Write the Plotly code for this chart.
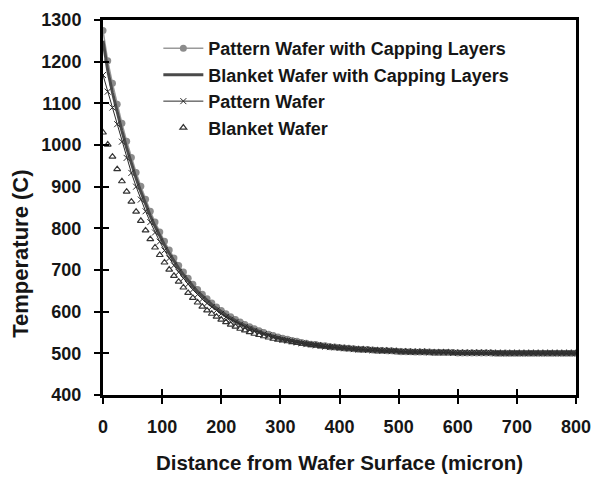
import numpy as np
import plotly.graph_objects as go

# distance from wafer surface, micron (one sample every 8 micron)
distance = np.arange(0, 801, 8)

# far-field values shared by the tail of each profile (x = 504 ... 800)
tail_pwc = [504, 504, 504, 503, 503, 503, 503, 502, 502, 502, 502, 502, 501, 501, 501, 501, 501, 501, 501, 501] + [500] * 18
tail_bwc = [504, 504, 504, 503, 503, 503, 503, 502, 502, 502, 502, 502, 501, 501, 501, 501, 501, 501, 501, 501] + [500] * 18
tail_pw = [504, 504, 503, 503, 503, 503, 502, 502, 502, 502, 502, 501, 501, 501, 501, 501, 501, 501, 501, 501] + [500] * 18
tail_bw = [504, 504, 503, 503, 503, 503, 502, 502, 502, 502, 502, 501, 501, 501, 501, 501, 501, 501, 501, 501] + [500] * 18

pattern_capped = [
    1275, 1202, 1148, 1098, 1052, 1009, 970, 934, 901, 870, 841, 815, 791,
    769, 748, 729, 711, 695, 680, 666, 653, 642, 631, 621, 611, 603,
    595, 588, 581, 575, 569, 564, 559, 554, 550, 546, 543, 539,
    536, 534, 531, 529, 526, 524, 522, 521, 519, 518, 516, 515, 514,
    513, 512, 511, 510, 509, 509, 508, 507, 507, 506, 506, 505,
] + tail_pwc

blanket_capped = [
    1250, 1179, 1126, 1078, 1034, 993, 955, 920, 888, 858, 830, 805, 781,
    760, 740, 721, 704, 689, 674, 661, 648, 637, 626, 617, 608, 599,
    592, 585, 578, 572, 567, 562, 557, 552, 548, 545, 541, 538,
    535, 532, 530, 528, 526, 524, 522, 520, 519, 517, 516, 515, 513,
    512, 511, 511, 510, 509, 508, 508, 507, 507, 506, 506, 505,
] + tail_bwc

pattern_bare = [
    1168, 1128, 1090, 1050, 1008, 969, 933, 900, 869, 841, 815, 790, 768,
    747, 728, 711, 695, 680, 666, 653, 641, 630, 620, 611, 603, 595,
    587, 581, 575, 569, 563, 559, 554, 550, 546, 543, 539, 536,
    533, 531, 529, 526, 524, 522, 521, 519, 518, 516, 515, 514, 513,
    512, 511, 510, 509, 509, 508, 507, 507, 506, 506, 505, 505,
] + tail_pw

blanket_bare = [
    1030, 1001, 972, 942, 913, 888, 864, 840, 818, 795, 774, 754, 736,
    718, 701, 686, 672, 658, 645, 633, 622, 612, 603, 595, 588, 581,
    575, 569, 564, 559, 555, 551, 547, 544, 541, 538, 535, 533,
    531, 529, 527, 525, 523, 522, 520, 519, 518, 516, 515, 514, 513,
    512, 511, 510, 509, 509, 508, 507, 507, 506, 506, 505, 505,
] + tail_bw

series_names = [
    "Pattern Wafer with Capping Layers",
    "Blanket Wafer with Capping Layers",
    "Pattern Wafer",
    "Blanket Wafer",
]

x_ticks = list(range(0, 801, 100))
y_ticks = list(range(400, 1301, 100))

FONT = "Liberation Sans"
INK = "#161616"

fig = go.Figure()

fig.add_trace(go.Scatter(
    x=distance, y=pattern_capped, name=series_names[0], legendgroup="a",
    mode="lines+markers",
    line=dict(color="#9a9a9a", width=1.5),
    marker=dict(symbol="circle", size=7, color="#8c8c8c"),
))
fig.add_trace(go.Scatter(
    x=distance, y=blanket_capped, name=series_names[1], legendgroup="b",
    mode="lines",
    line=dict(color="#4a4a4a", width=3),
))
fig.add_trace(go.Scatter(
    x=distance, y=pattern_bare, name=series_names[2], legendgroup="c",
    mode="lines+markers",
    line=dict(color="#2a2a2a", width=1),
    marker=dict(symbol="x-thin-open", size=6, line=dict(color="#2a2a2a", width=1)),
))
fig.add_trace(go.Scatter(
    x=distance, y=blanket_bare, name=series_names[3], legendgroup="d",
    mode="markers",
    marker=dict(symbol="triangle-up-open", size=6, color="#333333",
                line=dict(color="#333333", width=1.2)),
))
# companion axes carry the inward half of the crossing tick marks
fig.add_trace(go.Scatter(x=[None], y=[None], xaxis="x2", yaxis="y2",
                         showlegend=False, hoverinfo="skip"))

axis_common = dict(
    showline=True, linecolor="black", linewidth=3, mirror=True,
    showgrid=False, zeroline=False, automargin=False,
    ticks="outside", ticklen=6, tickwidth=2, tickcolor="black",
    tickfont=dict(family=FONT, size=18, color=INK, weight="bold"),
)

fig.update_layout(
    width=603, height=477,
    margin=dict(l=103, r=27, t=20, b=82),
    paper_bgcolor="white", plot_bgcolor="white",
    xaxis=dict(
        range=[0, 800], tickvals=x_ticks, ticklabelstandoff=7, **axis_common,
        title=dict(text="Distance from Wafer Surface (micron)", standoff=21,
                   font=dict(family=FONT, size=20.5, color=INK, weight="bold")),
    ),
    yaxis=dict(
        range=[400, 1300], tickvals=y_ticks, ticklabelstandoff=9, **axis_common,
    ),
    xaxis2=dict(range=[0, 800], tickvals=x_ticks, overlaying="x", anchor="y2",
                showticklabels=False, showgrid=False, zeroline=False, showline=False,
                ticks="inside", ticklen=6, tickwidth=2, tickcolor="black"),
    yaxis2=dict(range=[400, 1300], tickvals=y_ticks, overlaying="y", anchor="x2",
                showticklabels=False, showgrid=False, zeroline=False, showline=False,
                ticks="inside", ticklen=6, tickwidth=2, tickcolor="black"),
    legend=dict(
        x=0.117, y=0.973, xanchor="left", yanchor="top",
        bgcolor="rgba(0,0,0,0)", borderwidth=0,
        font=dict(family=FONT, size=18, color=INK, weight="bold"),
        itemwidth=40, tracegroupgap=0,
    ),
    showlegend=True,
)

# vertical axis title, sitting a little below the middle of the axis
fig.add_annotation(
    text="Temperature (C)", textangle=-90,
    xref="paper", yref="paper", x=-0.176, y=0.376,
    xanchor="center", yanchor="middle", showarrow=False,
    font=dict(family=FONT, size=22, color=INK, weight="bold"),
)

fig.write_html("out.html")
